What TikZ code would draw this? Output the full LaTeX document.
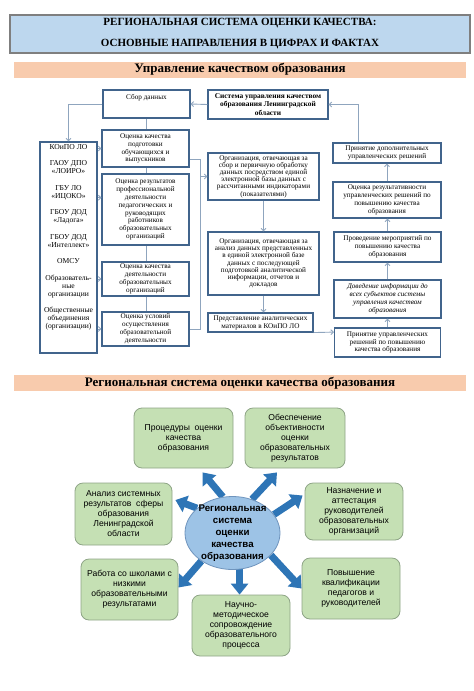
\documentclass[tikz,border=0pt]{standalone}
\usepackage{fontspec}
\setmainfont{Liberation Serif}
\setsansfont{Liberation Sans}
\usetikzlibrary{
  arrows.meta,
  positioning,
  backgrounds,
  shapes.geometric
}
\definecolor{rsTitle}{HTML}{BDD7EE}
\definecolor{rsFrame}{HTML}{7F7F7F}
\definecolor{rsBand}{HTML}{F8CBAD}
\definecolor{rsLine}{HTML}{41648C}
\definecolor{rsLink}{HTML}{8FA5BE}
\definecolor{rsGreen}{HTML}{C5E0B4}
\definecolor{rsGreenLine}{HTML}{8EA486}
\definecolor{rsCore}{HTML}{9DC3E6}
\definecolor{rsCoreLine}{HTML}{6F94BD}
\definecolor{rsArrow}{HTML}{2E75B6}
\tikzset{
  qbox/.style={
    draw=rsLine, line width=1.1pt, fill=white, align=center, inner sep=1pt,
    font=\fontsize{7.2}{7.9}\selectfont
  },
  obox/.style={qbox, font=\fontsize{7.2}{7.2}\selectfont},
  band/.style={
    fill=rsBand, minimum width=452pt, minimum height=16pt, inner sep=0pt,
    font=\fontsize{13}{15}\selectfont\bfseries
  },
  link/.style={rsLink, line width=0.9pt},
  flow/.style={link, -{Straight Barb[length=2.5pt,width=5pt]}},
  gbox/.style={
    draw=rsGreenLine, fill=rsGreen, rounded corners=8pt, line width=0.8pt,
    align=center, inner sep=1pt, font=\sffamily\fontsize{8.6}{10}\selectfont
  },
  corenode/.style={
    ellipse, draw=rsCoreLine, fill=rsCore, line width=0.8pt, align=center,
    inner sep=-12pt, font=\sffamily\bfseries\fontsize{9.7}{12}\selectfont
  },
  fat/.style={rsArrow, line width=7pt, -{Triangle[width=17pt,length=11pt]}}
}

\begin{document}
\begin{tikzpicture}[x=1pt, y=-1pt]
  \useasboundingbox (0,0) rectangle (474,691);
  \node[draw=rsFrame, line width=1.4pt, fill=rsTitle, minimum width=460pt, minimum height=38pt,
    align=center, font=\fontsize{11}{21}\selectfont\bfseries] (title) at (240,34)
    {РЕГИОНАЛЬНАЯ СИСТЕМА ОЦЕНКИ КАЧЕСТВА:\\ОСНОВНЫЕ НАПРАВЛЕНИЯ В ЦИФРАХ И ФАКТАХ};
  \node[band] (band1) at (240,69.5) {Управление качеством образования};

  % upper scheme
  \node[qbox, minimum width=87pt, minimum height=28pt, text depth=15pt] (sbor) at (146.5,104) {Сбор данных};
  \node[qbox, minimum width=120pt, minimum height=29pt, font=\fontsize{7.4}{8.5}\selectfont\bfseries] (sys) at (268,104.5)
    {Система управления качеством\\образования Ленинградской\\области};
  \node[qbox, minimum width=57pt, minimum height=211pt, text depth=22pt, font=\fontsize{7.6}{8}\selectfont] (org) at (68.5,247.5)
    {КОиПО ЛО\\[8.5pt]ГАОУ ДПО\\«ЛОИРО»\\[8.5pt]ГБУ ЛО\\«ИЦОКО»\\[8.5pt]ГБОУ ДОД\\«Ладога»\\[8.5pt]ГБОУ ДОД\\«Интеллект»\\[8.5pt]ОМСУ\\[8.5pt]Образователь-\\ные\\организации\\[8.5pt]Общественные\\объединения\\(организации)};
  \node[qbox, minimum width=87pt, minimum height=37pt] (ocq1) at (145.5,148.5)
    {Оценка качества\\подготовки\\обучающихся и\\выпускников};
  \node[qbox, minimum width=87pt, minimum height=71pt] (ocq2) at (145.5,209.5)
    {Оценка результатов\\профессиональной\\деятельности\\педагогических и\\руководящих\\работников\\образовательных\\организаций};
  \node[qbox, minimum width=87pt, minimum height=34pt] (ocq3) at (145.5,279)
    {Оценка качества\\деятельности\\образовательных\\организаций};
  \node[qbox, minimum width=87pt, minimum height=34pt] (ocq4) at (145.5,329)
    {Оценка условий\\осуществления\\образовательной\\деятельности};
  \node[obox, minimum width=111pt, minimum height=47pt] (coll) at (263.5,176.5)
    {Организация, отвечающая за\\сбор и первичную обработку\\данных посредством единой\\электронной базы данных с\\рассчитанными индикаторами\\(показателями)};
  \node[obox, minimum width=111pt, minimum height=63pt] (anl) at (263.5,263.5)
    {Организация, отвечающая за\\анализ данных представленных\\в единой электронной базе\\данных с последующей\\подготовкой аналитической\\информации, отчетов и\\докладов};
  \node[obox, minimum width=105pt, minimum height=19pt, font=\fontsize{7.2}{7.9}\selectfont] (pres) at (260.5,322.5)
    {Представление аналитических\\материалов в КОиПО ЛО};
  \node[qbox, minimum width=106pt, minimum height=29pt] (dec) at (387.5,342.5)
    {Принятие управленческих\\решений по повышению\\качества образования};
  \node[qbox, minimum width=107pt, minimum height=38pt, font=\fontsize{7.2}{7.9}\selectfont\itshape] (inf) at (387.5,299)
    {Доведение информации до\\всех субъектов системы\\управления качеством\\образования};
  \node[qbox, minimum width=107pt, minimum height=30pt] (evt) at (387.5,247)
    {Проведение мероприятий по\\повышению качества\\образования};
  \node[qbox, minimum width=108pt, minimum height=36pt] (res) at (387,200)
    {Оценка результативности\\управленческих решений по\\повышению качества\\образования};
  \node[qbox, minimum width=108pt, minimum height=20pt] (add) at (387,153)
    {Принятие дополнительных\\управленческих решений};

  \begin{scope}[on background layer]
    \draw[link] (sbor) -- (sbor |- ocq4.north);
  \end{scope}
  \draw[flow] (sys.west) -- (sbor.east);
  \draw[flow] (sbor.west) -| (org.north);
  \draw[flow] (org.east |- ocq1.west) -- (ocq1.west);
  \draw[flow] (org.east |- ocq2.165) -- (ocq2.165);
  \draw[flow] (org.east |- ocq3.west) -- (ocq3.west);
  \draw[flow] (org.east |- ocq4.west) -- (ocq4.west);
  \draw[link] (ocq1.346) -- ++(11,0) coordinate (brk) |- (ocq4.east);
  \draw[flow] (brk |- coll.west) -- (coll.west);
  \draw[flow] (coll.south) -- (coll.south |- anl.north);
  \draw[flow] (anl.south) -- (anl.south |- pres.north);
  \draw[flow] (pres.south east) -- (dec.169);
  \draw[flow] (dec.north) -- (dec.north |- inf.south);
  \draw[flow] (inf.north) -- (inf.north |- evt.south);
  \draw[flow] (evt.north) -- (evt.north |- res.south);
  \draw[flow] (res.north) -- (res.north |- add.south);
  \draw[flow] ([xshift=-29pt]add.north) |- (sys.east);

  % lower scheme
  \node[band] (band2) at (240,383) {Региональная система оценки качества образования};
  \node[corenode, minimum width=95pt, minimum height=73pt] (core) at (232.5,533)
    {Региональная\\система\\оценки\\качества\\образования};
  \node[gbox, minimum width=99pt, minimum height=60pt] (proc) at (183.5,438)
    {Процедуры\ \ оценки\\качества\\образования};
  \node[gbox, minimum width=100pt, minimum height=60pt] (obj) at (295,438)
    {Обеспечение\\объективности\\оценки\\образовательных\\результатов};
  \node[gbox, minimum width=97pt, minimum height=62pt] (anz) at (123.5,514)
    {Анализ системных\\результатов\ \ сферы\\образования\\Ленинградской\\области};
  \node[gbox, minimum width=98pt, minimum height=57pt] (nazn) at (354,511.5)
    {Назначение и\\аттестация\\руководителей\\образовательных\\организаций};
  \node[gbox, minimum width=97pt, minimum height=61pt] (rab) at (129.5,589.5)
    {Работа со школами с\\низкими\\образовательными\\результатами};
  \node[gbox, minimum width=98pt, minimum height=61pt] (pov) at (351,588.5)
    {Повышение\\квалификации\\педагогов и\\руководителей};
  \node[gbox, minimum width=98pt, minimum height=61pt] (nauch) at (241,625.5)
    {Научно-\\методическое\\сопровождение\\образовательного\\процесса};

  \begin{scope}[on background layer]
    \draw[fat] (core.105) -- ([xshift=19pt,yshift=-4pt]proc.south);
    \draw[fat] (core.60) -- ([xshift=-18pt,yshift=-4pt]obj.south);
    \draw[fat] (core.145) -- ([xshift=3pt,yshift=14pt]anz.east);
    \draw[fat] (core.24) -- ([xshift=-2pt,yshift=16pt]nazn.west);
    \draw[fat] (core.222) -- ([yshift=2pt]rab.east);
    \draw[fat] (core.281) -- (core.281 |- nauch.north);
    \draw[fat] (core.330) -- (pov.west);
  \end{scope}
\end{tikzpicture}
\end{document}
